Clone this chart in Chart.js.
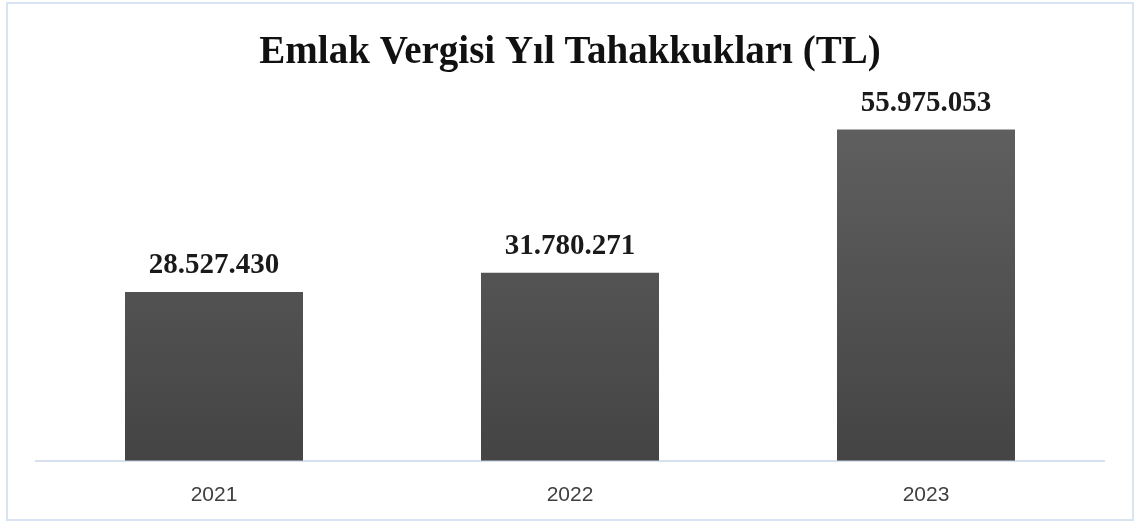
<!DOCTYPE html>
<html>
<head>
<meta charset="utf-8">
<script src="https://cdn.jsdelivr.net/npm/chart.js@4/dist/chart.umd.min.js"></script>
<style>
  html, body { margin: 0; padding: 0; background: #fff; }
  #wrap { position: relative; width: 1140px; height: 522px; }
  #frame { position: absolute; left: 6px; top: 2px; width: 1124px; height: 515px;
           border: 2px solid #dae3f1; pointer-events: none; }
</style>
</head>
<body>
<div id="wrap">
  <canvas id="chart" width="1140" height="522"></canvas>
  <div id="frame"></div>
</div>
<script>
// Emlak vergisi tahakkukları, yıllara göre
const years = ['2021', '2022', '2023'];
const amounts = [28527430, 31780271, 55975053];
const yMax = 60000000;

const titleText = 'Emlak Vergisi Yıl Tahakkukları (TL)';

// 28527430 -> "28.527.430"
function formatTL(v) {
    return String(v).replace(/\B(?=(\d{3})+(?!\d))/g, '.');
}

// per-bar vertical gradient, lighter at the top
const barGradient = {
    id: 'barGradient',
    beforeDatasetsDraw(chart) {
        const ctx = chart.ctx;
        chart.getDatasetMeta(0).data.forEach(bar => {
            const g = ctx.createLinearGradient(0, bar.y, 0, bar.base);
            g.addColorStop(0, '#5f5f5f');
            g.addColorStop(1, '#444444');
            bar.options.backgroundColor = g;
        });
    }
};

// value labels above the bars
const valueLabels = {
    id: 'valueLabels',
    afterDatasetsDraw(chart) {
        const ctx = chart.ctx;
        ctx.save();
        ctx.font = 'bold 29px "Liberation Serif", serif';
        ctx.fillStyle = '#1a1a1a';
        ctx.textAlign = 'center';
        ctx.textBaseline = 'middle';
        chart.getDatasetMeta(0).data.forEach((bar, i) => {
            ctx.fillText(formatTL(amounts[i]), bar.x, bar.y - 26);
        });
        ctx.restore();
    }
};

new Chart(document.getElementById('chart'), {
    type: 'bar',
    data: {
        labels: years,
        datasets: [{
            data: amounts,
            backgroundColor: '#555555',
            borderWidth: 0,
            barPercentage: 0.5,
            categoryPercentage: 1.0
        }]
    },
    options: {
        responsive: false,
        animation: false,
        layout: {
            padding: { left: 36, right: 36, top: 0, bottom: 0 }
        },
        plugins: {
            legend: { display: false },
            tooltip: { enabled: false },
            title: {
                display: true,
                text: titleText,
                color: '#111',
                font: { family: '"Liberation Serif", serif', size: 39, weight: 'bold' },
                padding: { top: 30, bottom: 29 }
            }
        },
        scales: {
            x: {
                grid: { display: false },
                border: { color: '#d6e0ee', width: 2 },
                ticks: {
                    color: '#404040',
                    padding: 14,
                    font: { family: '"Liberation Sans", sans-serif', size: 21 }
                }
            },
            y: {
                display: false,
                min: 0,
                max: yMax
            }
        }
    },
    plugins: [barGradient, valueLabels]
});
</script>
</body>
</html>
